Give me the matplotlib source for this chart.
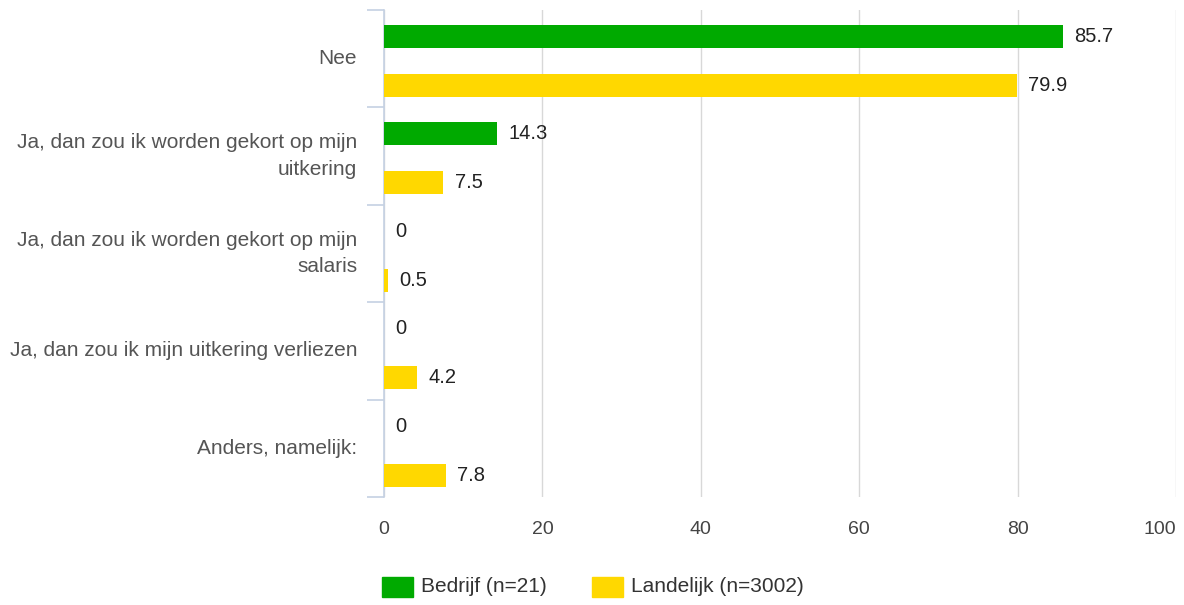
import numpy as np
import matplotlib.pyplot as plt
from matplotlib.patches import Rectangle

plt.rcParams['font.family'] = ['Liberation Sans', 'DejaVu Sans']

categories = ['Nee',
              'Ja, dan zou ik worden gekort op mijn\nuitkering',
              'Ja, dan zou ik worden gekort op mijn\nsalaris',
              'Ja, dan zou ik mijn uitkering verliezen',
              'Anders, namelijk:']
bedrijf = [85.7, 14.3, 0, 0, 0]
landelijk = [79.9, 7.5, 0.5, 4.2, 7.8]
bedrijf_labels = ['85.7', '14.3', '0', '0', '0']
landelijk_labels = ['79.9', '7.5', '0.5', '4.2', '7.8']
series_names = ['Bedrijf (n=21)', 'Landelijk (n=3002)']
ticks = [0, 20, 40, 60, 80, 100]

green = '#00AA00'
yellow = '#FFD800'
axis_col = '#C5D1E3'

W, H = 1184, 605
fig = plt.figure(figsize=(W / 100, H / 100), dpi=100)
ax = fig.add_axes([384 / W, 1 - 497 / H, 792 / W, 487 / H])

n = len(categories)
idx = np.arange(n)
h = 0.236
ax.barh(idx + 0.272, bedrijf, height=h, color=green, zorder=3)
ax.barh(idx + 0.775, landelijk, height=h, color=yellow, zorder=3)

for i in idx:
    ax.annotate(bedrijf_labels[i], (bedrijf[i], i + 0.272), xytext=(8, 0),
                textcoords='offset points', va='center', ha='left',
                fontsize=14.5, color='#222222')
    ax.annotate(landelijk_labels[i], (landelijk[i], i + 0.775), xytext=(8, 0),
                textcoords='offset points', va='center', ha='left',
                fontsize=14.5, color='#222222')

ax.set_xlim(0, 100)
ax.set_ylim(n, 0)
ax.set_xticks(ticks)
ax.set_xticklabels([str(t) for t in ticks])
ax.tick_params(axis='x', length=0, pad=17, labelsize=14, labelcolor='#444444')
ax.get_xticklabels()[-1].set_ha('right')
ax.grid(axis='x', color='#D8D8D8', linewidth=1, zorder=0)

ax.set_yticks(np.arange(n + 1))
ax.set_yticklabels([])
ax.tick_params(axis='y', length=12, color=axis_col, width=1.2)
for i, c in enumerate(categories):
    ax.text(-0.034, 1 - (i + 0.5) / n, c, transform=ax.transAxes,
            ha='right', va='center', multialignment='right',
            fontsize=15, color='#555555', linespacing=1.5)

for s in ['top', 'right', 'bottom']:
    ax.spines[s].set_visible(False)
ax.spines['left'].set_color(axis_col)
ax.spines['left'].set_linewidth(1.2)

# legend drawn by hand to match the reference spacing
for x0, col, name in [(382, green, series_names[0]), (592, yellow, series_names[1])]:
    fig.add_artist(Rectangle((x0 / W, 1 - 597 / H), 31 / W, 20 / H,
                             transform=fig.transFigure, color=col))
    fig.text((x0 + 39) / W, 1 - 587 / H, name, ha='left', va='center',
             fontsize=15, color='#333333')

fig.savefig('out.png', dpi=100)
